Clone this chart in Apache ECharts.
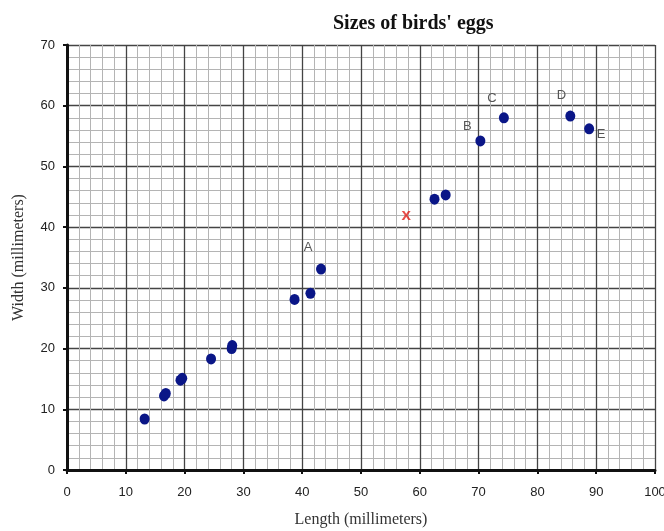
<!DOCTYPE html>
<html>
<head>
<meta charset="utf-8">
<title>Sizes of birds' eggs</title>
<script src="https://cdn.jsdelivr.net/npm/echarts@6/dist/echarts.min.js"></script>
<style>
  html, body { margin: 0; padding: 0; background: #fff; }
  #chart { width: 664px; height: 531px; }
</style>
</head>
<body>
<div id="chart"></div>
<script>
// egg length (x) and width (y), millimeters
const eggLength = [13.2, 16.5, 16.8, 19.3, 19.6, 24.5, 28.0, 28.1, 38.7, 41.4, 43.2, 62.5, 64.4, 70.3, 74.3, 85.6, 88.8];
const eggWidth  = [ 8.4, 12.2, 12.6, 14.8, 15.1, 18.3, 20.0, 20.5, 28.1, 29.1, 33.1, 44.6, 45.3, 54.2, 58.0, 58.3, 56.2];
const eggLabel  = ["", "", "", "", "", "", "", "", "", "", "A", "", "", "B", "C", "D", "E"];
const unknownEgg = [57.7, 41.7];
const xTicks = [0, 10, 20, 30, 40, 50, 60, 70, 80, 90, 100];
const yTicks = [0, 10, 20, 30, 40, 50, 60, 70];

// where each letter sits relative to its point
const labelOffsets = {
  A: [-13, -22], B: [-13, -15], C: [-12, -19], D: [-9, -21], E: [12, 6]
};

const chart = echarts.init(document.getElementById("chart"));

const points = eggLength.map((x, i) => {
  const item = { value: [x, eggWidth[i]] };
  const name = eggLabel[i];
  if (name) {
    item.label = {
      show: true,
      formatter: name,
      position: "inside",
      offset: labelOffsets[name],
      color: "#555",
      fontFamily: "Liberation Sans",
      fontSize: 13
    };
  }
  return item;
});

const axisCommon = {
  type: "value",
  interval: 10,
  axisLine: { show: true, onZero: false, lineStyle: { color: "#111", width: 3 } },
  axisTick: { show: true, length: 4, lineStyle: { color: "#111", width: 2 } },
  axisLabel: { color: "#222", fontFamily: "Liberation Sans", fontSize: 13 },
  splitLine: { show: true, lineStyle: { color: "#444", width: 1.3 } },
  minorTick: { show: false, splitNumber: 5 },
  minorSplitLine: { show: true, lineStyle: { color: "#b4b4b4", width: 1 } },
  nameLocation: "middle",
  nameTextStyle: { color: "#333", fontFamily: "Liberation Serif", fontSize: 16 }
};

chart.setOption({
  animation: false,
  title: {
    text: "Sizes of birds' eggs",
    left: 328,
    top: 9,
    textStyle: { color: "#111", fontFamily: "Liberation Serif", fontSize: 20, fontWeight: "bold" }
  },
  grid: { left: 67, right: 9, top: 45, bottom: 61, containLabel: false, outerBoundsMode: "none" },
  xAxis: Object.assign({}, axisCommon, {
    min: xTicks[0],
    max: xTicks[xTicks.length - 1],
    name: "Length (millimeters)",
    nameGap: 42,
    axisLabel: Object.assign({}, axisCommon.axisLabel, { margin: 16 })
  }),
  yAxis: Object.assign({}, axisCommon, {
    min: yTicks[0],
    max: yTicks[yTicks.length - 1],
    name: "Width (millimeters)",
    nameGap: 40,
    axisLabel: Object.assign({}, axisCommon.axisLabel, { margin: 12 })
  }),
  series: [
    {
      type: "scatter",
      data: points,
      symbol: "circle",
      symbolSize: [10, 11],
      itemStyle: { color: "#0a1687", opacity: 1 }
    },
    {
      type: "scatter",
      data: [unknownEgg],
      symbolSize: 0,
      label: {
        show: true,
        formatter: "x",
        position: "inside",
        color: "#e0201c",
        fontFamily: "Liberation Sans",
        fontWeight: "bold",
        fontSize: 17,
        offset: [0, -2]
      }
    }
  ]
});
</script>
</body>
</html>
